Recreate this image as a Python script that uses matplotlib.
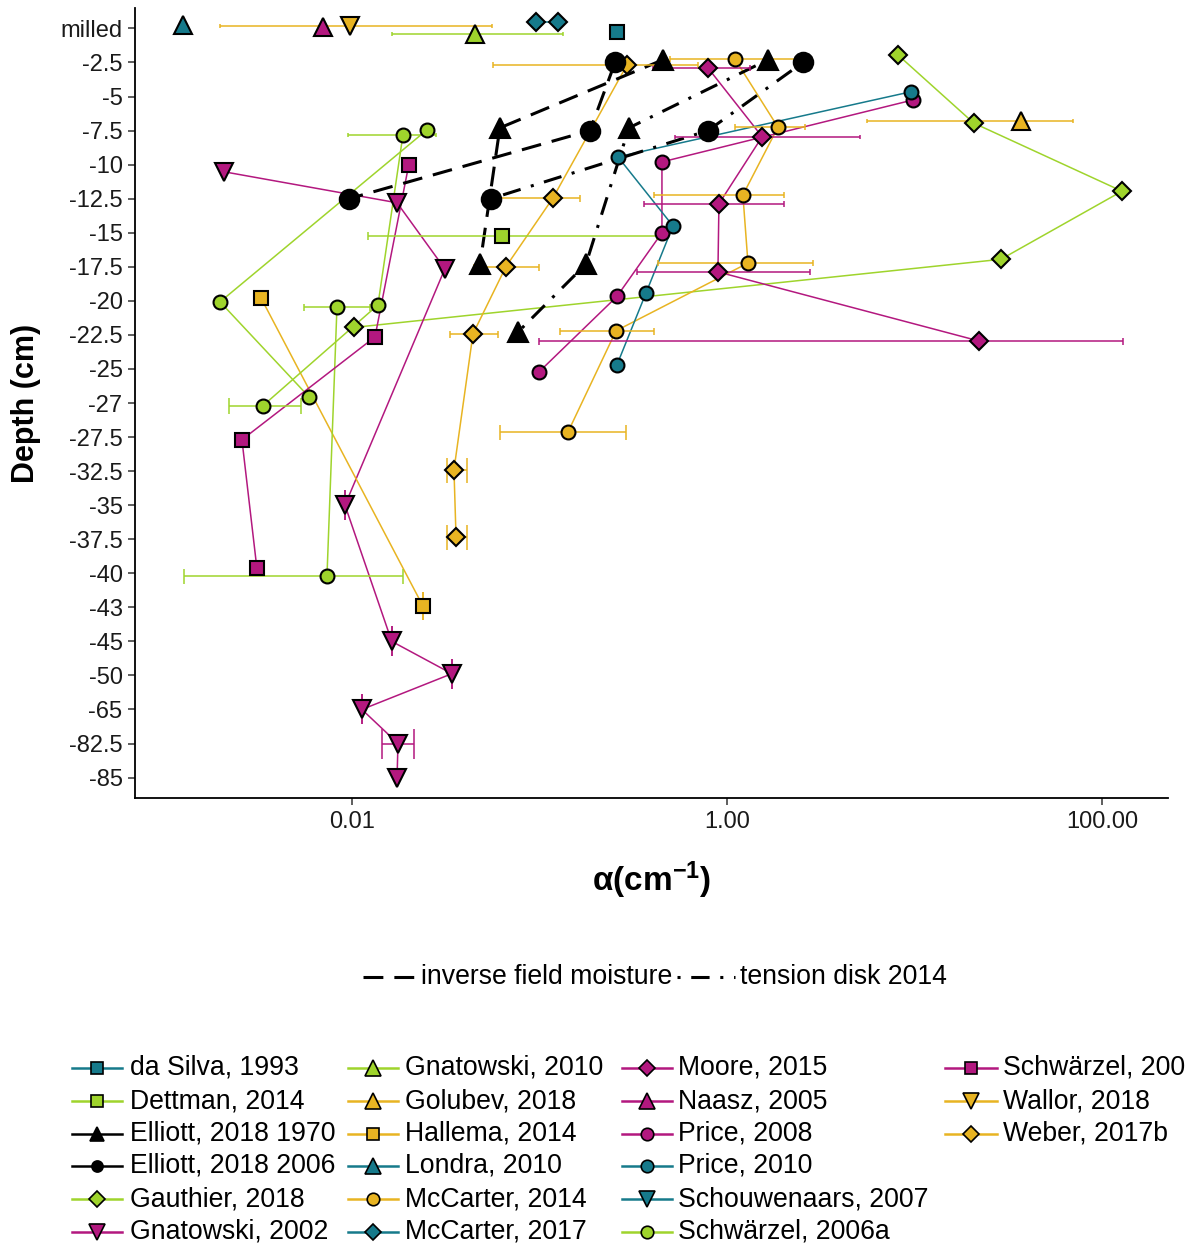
import numpy as np
import matplotlib
matplotlib.use('Agg')
import matplotlib.pyplot as plt
from matplotlib.lines import Line2D

plt.rcParams['font.family'] = ['Liberation Sans', 'DejaVu Sans']
plt.rcParams['mathtext.fontset'] = 'custom'
plt.rcParams['mathtext.rm'] = 'Liberation Sans'
plt.rcParams['mathtext.bf'] = 'Liberation Sans:bold'
plt.rcParams['mathtext.it'] = 'Liberation Sans:italic'

# ---------------- data ----------------
depth_levels = ['milled', '-2.5', '-5', '-7.5', '-10', '-12.5', '-15', '-17.5', '-20',
                '-22.5', '-25', '-27', '-27.5', '-32.5', '-35', '-37.5', '-40', '-43',
                '-45', '-50', '-65', '-82.5', '-85']
x_ticks = [0.01, 1.0, 100.0]
x_tick_labels = ['0.01', '1.00', '100.00']

dasilva_depth = ['milled']
dasilva_alpha = [0.259]
dasilva_jit = [0.10]

dettman_depth = ['-15']
dettman_alpha = [0.0631]
dettman_jit = [0.09]
dettman_xmin = [0.0122]
dettman_xmax = [0.424]

elliott1970_ifm_depth = ['-2.5', '-7.5', '-17.5']
elliott1970_ifm_alpha = [0.456, 0.0615, 0.0482]
elliott1970_td_depth = ['-2.5', '-7.5', '-17.5', '-22.5']
elliott1970_td_alpha = [1.655, 0.300, 0.177, 0.0767]

elliott2006_ifm_depth = ['-2.5', '-7.5', '-12.5']
elliott2006_ifm_alpha = [0.253, 0.186, 0.00964]
elliott2006_td_depth = ['-2.5', '-7.5', '-12.5']
elliott2006_td_alpha = [2.54, 0.792, 0.0551]

gauthier_depth = ['-2.5', '-7.5', '-12.5', '-17.5', '-22.5']
gauthier_alpha = [8.17, 20.7, 127.8, 28.9, 0.01026]
gauthier_jit = [-0.22, -0.22, -0.22, -0.22, -0.22]

gnat2002_depth = ['-10', '-12.5', '-17.5', '-35', '-45', '-50', '-65', '-82.5', '-85']
gnat2002_alpha = [0.00208, 0.0174, 0.0313, 0.00918, 0.0163, 0.0341, 0.0113, 0.0176, 0.0174]
gnat2002_jit = [0.21, 0.12, 0.06, 0.0, 0.0, -0.05, 0.0, 0.0, 0.0]
gnat2002_xmin = [None, None, None, 0.00918, 0.0163, 0.0341, 0.0113, 0.01445, None]
gnat2002_xmax = [None, None, None, 0.00918, 0.0163, 0.0341, 0.0113, 0.0214, None]

gnat2010_depth = ['milled']
gnat2010_alpha = [0.0453]
gnat2010_jit = [0.17]
gnat2010_xmin = [0.0163]
gnat2010_xmax = [0.133]

golubev_depth = ['-7.5']
golubev_alpha = [37.0]
golubev_jit = [-0.27]
golubev_xmin = [5.58]
golubev_xmax = [70.0]

hallema_depth = ['-20', '-43']
hallema_alpha = [0.00327, 0.0239]
hallema_jit = [-0.09, -0.04]
hallema_xmin = [None, 0.0239]
hallema_xmax = [None, 0.0239]

londra_depth = ['milled']
londra_alpha = [0.00126]
londra_jit = [-0.09]

mcc2014_depth = ['-2.5', '-7.5', '-12.5', '-17.5', '-22.5', '-27.5']
mcc2014_alpha = [1.104, 1.87, 1.216, 1.294, 0.256, 0.142]
mcc2014_jit = [-0.10, -0.10, -0.11, -0.11, -0.12, -0.15]
mcc2014_xmin = [0.497, 1.104, 0.408, 0.429, 0.1285, 0.0615]
mcc2014_xmax = [2.54, 2.61, 2.01, 2.88, 0.408, 0.289]

mcc2017_depth = ['milled', 'milled']
mcc2017_alpha = [0.0957, 0.1256]
mcc2017_jit = [-0.19, -0.19]

moore_depth = ['-2.5', '-7.5', '-12.5', '-17.5', '-22.5']
moore_alpha = [0.792, 1.54, 0.906, 0.895, 22.1]
moore_jit = [0.16, 0.18, 0.15, 0.15, 0.18]
moore_xmin = [0.403, 0.529, 0.36, 0.331, 0.0993]
moore_xmax = [1.33, 5.12, 2.01, 2.77, 129.4]

naasz_depth = ['milled']
naasz_alpha = [0.0070]
naasz_jit = [-0.05]

price2008_depth = ['-5', '-10', '-15', '-20', '-25']
price2008_alpha = [9.82, 0.45, 0.45, 0.259, 0.0993]
price2008_jit = [0.10, -0.08, 0.0, -0.13, 0.09]

price2010_depth = ['-5', '-10', '-15', '-20', '-25']
price2010_alpha = [9.57, 0.262, 0.515, 0.37, 0.259]
price2010_jit = [-0.14, -0.23, -0.20, -0.23, -0.12]

schouw_depth = []
schouw_alpha = []
schouw_jit = []

schw2006a_site = [1, 2, 1, 2, 3, 1, 2, 3]
schw2006a_depth = ['-7.5', '-7.5', '-20', '-20', '-20', '-27', '-27', '-40']
schw2006a_alpha = [0.0251, 0.0187, 0.00198, 0.01376, 0.00832, 0.0059, 0.00335, 0.00736]
schw2006a_jit = [-0.02, 0.13, 0.03, 0.12, 0.18, -0.18, 0.08, 0.07]
schw2006a_xmin = [None, 0.00952, None, None, 0.00555, None, 0.00221, 0.00127]
schw2006a_xmax = [None, 0.028, None, None, 0.01247, None, 0.00535, 0.0187]

schw2006b_depth = ['-10', '-22.5', '-27.5', '-40']
schw2006b_alpha = [0.0201, 0.01327, 0.00259, 0.00311]
schw2006b_jit = [0.0, 0.06, 0.08, -0.16]

wallor_depth = ['milled']
wallor_alpha = [0.0098]
wallor_jit = [-0.08]
wallor_xmin = [0.00198]
wallor_xmax = [0.0558]

weber_depth = ['-2.5', '-12.5', '-17.5', '-22.5', '-32.5', '-37.5']
weber_alpha = [0.293, 0.118, 0.0662, 0.0442, 0.035, 0.0359]
weber_jit = [0.07, -0.02, 0.0, -0.03, -0.04, -0.07]
weber_xmin = [0.0565, 0.057, 0.045, 0.0333, 0.0320, 0.0320]
weber_xmax = [0.70, 0.1644, 0.0993, 0.0601, 0.0409, 0.0409]

# ---------------- styles ----------------
TEAL = '#167a8b'
GREEN = '#9fd42c'
MAGENTA = '#b3187f'
YELLOW = '#e8b422'

MS = {'s': 9.5, '^': 13, 'v': 13, 'o': 10, 'D': 9.5}

series = [
    dict(label='da Silva, 1993', color=TEAL, marker='s', depth=dasilva_depth, alpha=dasilva_alpha, jit=dasilva_jit),
    dict(label='Dettman, 2014', color=GREEN, marker='s', depth=dettman_depth, alpha=dettman_alpha, jit=dettman_jit,
         xmin=dettman_xmin, xmax=dettman_xmax, cap=[8]),
    dict(label='Elliott, 2018 1970', color='black', marker='^', elliott=True),
    dict(label='Elliott, 2018 2006', color='black', marker='o', elliott=True),
    dict(label='Gauthier, 2018', color=GREEN, marker='D', depth=gauthier_depth, alpha=gauthier_alpha, jit=gauthier_jit),
    dict(label='Gnatowski, 2002', color=MAGENTA, marker='v', depth=gnat2002_depth, alpha=gnat2002_alpha, jit=gnat2002_jit,
         xmin=gnat2002_xmin, xmax=gnat2002_xmax, cap=[30] * 9),
    dict(label='Gnatowski, 2010', color=GREEN, marker='^', depth=gnat2010_depth, alpha=gnat2010_alpha, jit=gnat2010_jit,
         xmin=gnat2010_xmin, xmax=gnat2010_xmax, cap=[5]),
    dict(label='Golubev, 2018', color=YELLOW, marker='^', depth=golubev_depth, alpha=golubev_alpha, jit=golubev_jit,
         xmin=golubev_xmin, xmax=golubev_xmax, cap=[5]),
    dict(label='Hallema, 2014', color=YELLOW, marker='s', depth=hallema_depth, alpha=hallema_alpha, jit=hallema_jit,
         xmin=hallema_xmin, xmax=hallema_xmax, cap=[28, 28]),
    dict(label='Londra, 2010', color=TEAL, marker='^', depth=londra_depth, alpha=londra_alpha, jit=londra_jit),
    dict(label='McCarter, 2014', color=YELLOW, marker='o', depth=mcc2014_depth, alpha=mcc2014_alpha, jit=mcc2014_jit,
         xmin=mcc2014_xmin, xmax=mcc2014_xmax, cap=[6, 6, 6, 6, 7, 15]),
    dict(label='McCarter, 2017', color=TEAL, marker='D', depth=mcc2017_depth, alpha=mcc2017_alpha, jit=mcc2017_jit),
    dict(label='Moore, 2015', color=MAGENTA, marker='D', depth=moore_depth, alpha=moore_alpha, jit=moore_jit,
         xmin=moore_xmin, xmax=moore_xmax, cap=[6, 5, 6, 6, 7]),
    dict(label='Naasz, 2005', color=MAGENTA, marker='^', depth=naasz_depth, alpha=naasz_alpha, jit=naasz_jit),
    dict(label='Price, 2008', color=MAGENTA, marker='o', depth=price2008_depth, alpha=price2008_alpha, jit=price2008_jit),
    dict(label='Price, 2010', color=TEAL, marker='o', depth=price2010_depth, alpha=price2010_alpha, jit=price2010_jit),
    dict(label='Schouwenaars, 2007', color=TEAL, marker='v', depth=schouw_depth, alpha=schouw_alpha, jit=schouw_jit),
    dict(label='Schwärzel, 2006a', color=GREEN, marker='o', depth=schw2006a_depth, alpha=schw2006a_alpha, jit=schw2006a_jit,
         xmin=schw2006a_xmin, xmax=schw2006a_xmax, cap=[5, 5, 5, 5, 7, 5, 16, 15], site=schw2006a_site),
    dict(label='Schwärzel, 200', color=MAGENTA, marker='s', depth=schw2006b_depth, alpha=schw2006b_alpha, jit=schw2006b_jit),
    dict(label='Wallor, 2018', color=YELLOW, marker='v', depth=wallor_depth, alpha=wallor_alpha, jit=wallor_jit,
         xmin=wallor_xmin, xmax=wallor_xmax, cap=[5]),
    dict(label='Weber, 2017b', color=YELLOW, marker='D', depth=weber_depth, alpha=weber_alpha, jit=weber_jit,
         xmin=weber_xmin, xmax=weber_xmax, cap=[6, 7, 7, 7, 25, 25]),
]

W, H = 1196, 1251
DPI = 100
fig = plt.figure(figsize=(W / DPI, H / DPI), dpi=DPI)
ax = fig.add_axes([135 / W, 1 - 798 / H, 1033 / W, 790 / H])


def ypos(depths, jit):
    return [depth_levels.index(d) + j for d, j in zip(depths, jit)]


LW = 1.1
EDGE = 1.5
DASHED = (0, (6.5, 3.6))
DOTDASH = (0, (1, 3.5, 6, 3.5))

elliott_sets = [
    (elliott1970_ifm_depth, elliott1970_ifm_alpha, -0.08, DASHED, '^', 15),
    (elliott1970_td_depth, elliott1970_td_alpha, -0.08, DOTDASH, '^', 15),
    (elliott2006_ifm_depth, elliott2006_ifm_alpha, 0.0, DASHED, 'o', 14),
    (elliott2006_td_depth, elliott2006_td_alpha, 0.0, DOTDASH, 'o', 14),
]

# colored series lines
for s in series:
    if s.get('elliott') or not s['depth']:
        continue
    y = ypos(s['depth'], s['jit'])
    x = s['alpha']
    sites = s.get('site', [1] * len(x))
    for site in sorted(set(sites)):
        idx = [i for i, g in enumerate(sites) if g == site]
        ax.plot([x[i] for i in idx], [y[i] for i in idx], color=s['color'], lw=LW, zorder=2,
                solid_capstyle='butt')

for d, a, j, ls, m, ms in elliott_sets:
    y = ypos(d, [j] * len(d))
    ax.plot(a, y, color='black', lw=2.2, linestyle=ls, zorder=2.3, dash_capstyle='butt')

# error bars
for s in series:
    if 'xmin' not in s:
        continue
    y = ypos(s['depth'], s['jit'])
    for i, (a, lo, hi) in enumerate(zip(s['alpha'], s['xmin'], s['xmax'])):
        if lo is None:
            continue
        cap = s['cap'][i] * 0.36
        ax.errorbar([a], [y[i]], xerr=[[a - lo], [hi - a]], fmt='none', ecolor=s['color'],
                    elinewidth=LW, capsize=cap, capthick=LW, zorder=2.5)

# points
for s in series:
    if s.get('elliott') or not s['depth']:
        continue
    y = ypos(s['depth'], s['jit'])
    ax.plot(s['alpha'], y, linestyle='none', marker=s['marker'], ms=MS[s['marker']],
            mfc=s['color'], mec='black', mew=EDGE, zorder=3)

for d, a, j, ls, m, ms in elliott_sets:
    y = ypos(d, [j] * len(d))
    ax.plot(a, y, linestyle='none', marker=m, ms=ms, mfc='black', mec='black', mew=EDGE, zorder=3)

# axes
ax.set_xscale('log')
ax.set_xlim(10 ** -3.157, 10 ** 2.352)
ax.set_ylim(22.6, -0.6)
ax.set_xticks(x_ticks)
ax.set_xticklabels(x_tick_labels)
ax.xaxis.set_minor_locator(matplotlib.ticker.NullLocator())
ax.set_yticks(range(len(depth_levels)))
ax.set_yticklabels(depth_levels)
for sp in ['top', 'right']:
    ax.spines[sp].set_visible(False)
for sp in ['left', 'bottom']:
    ax.spines[sp].set_linewidth(1.3)
    ax.spines[sp].set_color('black')
ax.tick_params(axis='both', length=5, width=1.1, color='#333333', labelsize=17,
               labelcolor='#1a1a1a', pad=4)

fig.text(26 / W, 1 - 403 / H, 'Depth (cm)', rotation=90, ha='center', va='center',
         fontsize=22, fontweight='bold')
fig.text(652 / W, 1 - 880 / H, r'$\mathbf{\alpha(cm^{-1})}$', ha='center', va='center',
         fontsize=24)

# linetype legend
LEG_FS = 19.2
ly = 1 - 977 / H
fig.add_artist(Line2D([363 / W, 415 / W], [ly, ly], transform=fig.transFigure, color='black',
                      lw=2.2, linestyle=DASHED, dash_capstyle='butt'))
fig.text(421 / W, ly, 'inverse field moisture', ha='left', va='center', fontsize=LEG_FS)
fig.add_artist(Line2D([677 / W, 735 / W], [ly, ly], transform=fig.transFigure, color='black',
                      lw=2.2, linestyle=DOTDASH, dash_capstyle='butt'))
fig.text(740 / W, ly, 'tension disk 2014', ha='left', va='center', fontsize=LEG_FS)

# series legend (4 columns, filled column-wise, 6 rows)
col_key = [(72, 122), (348, 398), (622, 672), (945, 997)]
col_text = [130, 405, 678, 1003]
row_y = [1068, 1101, 1134, 1166, 1199, 1232]
for k, s in enumerate(series):
    c, r = divmod(k, 6)
    y = 1 - row_y[r] / H
    x0, x1 = col_key[c]
    fig.add_artist(Line2D([x0 / W, x1 / W], [y, y], transform=fig.transFigure,
                          color=s['color'], lw=1.8))
    if s.get('elliott'):
        ms = 10 if s['marker'] == '^' else 8
    else:
        ms = MS[s['marker']] * 0.9
    fig.add_artist(Line2D([(x0 + x1) / 2 / W], [y], transform=fig.transFigure, linestyle='none',
                          marker=s['marker'], ms=ms, mfc=s['color'], mec='black', mew=1.2))
    fig.text(col_text[c] / W, y, s['label'], ha='left', va='center', fontsize=LEG_FS)

fig.savefig('out.png', dpi=DPI)
